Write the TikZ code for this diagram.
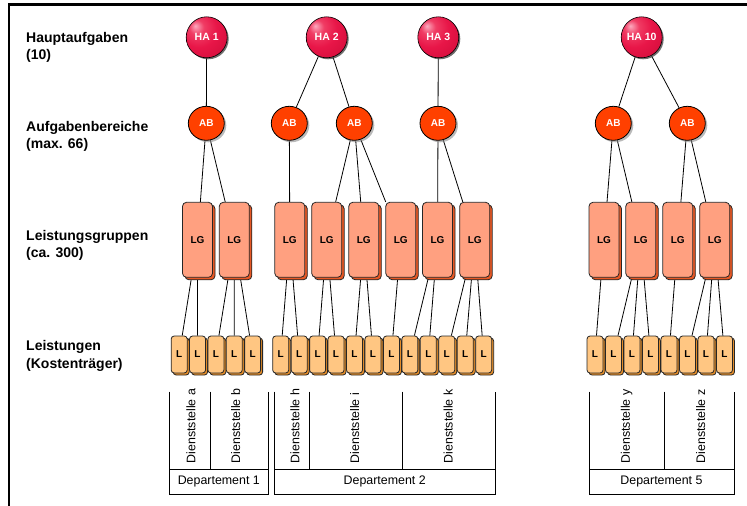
\documentclass[tikz,border=0pt]{standalone}
\usepackage{fontspec}
\setmainfont{Liberation Sans}
\usetikzlibrary{shapes.geometric,shadows,backgrounds}

\definecolor{abfill}{RGB}{255,64,0}
\definecolor{lgfill}{RGB}{255,160,128}
\definecolor{lgback}{RGB}{232,88,36}
\definecolor{lfill}{RGB}{255,198,130}
\definecolor{lback}{RGB}{228,140,40}

% glossy crimson sphere, highlight towards the upper left
\pgfdeclareradialshading{hasphere}{\pgfpoint{-14bp}{14bp}}{%
  color(0bp)=(rgb,255:red,252;green,170;blue,190);
  color(9bp)=(rgb,255:red,240;green,60;blue,100);
  color(22bp)=(rgb,255:red,232;green,22;blue,72);
  color(45bp)=(rgb,255:red,205;green,10;blue,55);
  color(60bp)=(rgb,255:red,150;green,0;blue,35);
  color(72bp)=(rgb,255:red,70;green,0;blue,15)}

\begin{document}
\begin{tikzpicture}[x=1pt,y=-1pt,
  smallbold/.style={font=\fontsize{10}{12}\selectfont\bfseries},
  hanode/.style={circle, minimum size=41pt, inner sep=0pt, shading=hasphere,
    draw=black, line width=0.6pt, text=white,
    font=\fontsize{10.5}{12}\selectfont\bfseries,
    drop shadow={shadow xshift=1.5pt, shadow yshift=-1.5pt, fill=black!70, opacity=0.8}},
  abnode/.style={ellipse, minimum width=36pt, minimum height=34pt, inner sep=0pt,
    fill=abfill, draw=black, line width=0.8pt, text=white, smallbold,
    drop shadow={shadow xshift=2pt, shadow yshift=-2pt, fill=black!45, opacity=0.6}},
  lgnode/.style={rectangle, rounded corners=4pt, minimum width=30pt, minimum height=75pt,
    inner sep=0pt, fill=lgfill, draw=black!85, line width=0.8pt, smallbold,
    general shadow={shadow xshift=2.5pt, shadow yshift=-2.5pt, fill=lgback,
      draw=black!85, line width=0.8pt}},
  lnode/.style={rectangle, rounded corners=3pt, minimum width=16pt, minimum height=37pt,
    inner sep=0pt, fill=lfill, draw=black!85, line width=0.8pt, smallbold,
    general shadow={shadow xshift=2pt, shadow yshift=-2pt, fill=lback,
      draw=black!85, line width=0.8pt}},
  link/.style={draw=black, line width=0.8pt},
  rowlabel/.style={anchor=north west, inner sep=0pt, align=left,
    font=\fontsize{14}{17.5}\selectfont\bfseries},
  tableline/.style={draw=black, line width=0.8pt},
  unitlabel/.style={rotate=90, anchor=west, inner sep=0pt,
    font=\fontsize{12.4}{14}\selectfont},
  deptlabel/.style={inner sep=0pt, font=\fontsize{12.4}{14}\selectfont},
  frameline/.style={draw=black, line width=2.2pt}
]
\useasboundingbox (0,0) rectangle (747,506);

% frame: top rule and left rule
\draw[frameline] (8,4.5) -- (747,4.5);
\draw[frameline] (9,3.4) -- (9,506);

% level labels
\node[rowlabel] (lblha) at (26,32) {Hauptaufgaben\\(10)};
\node[rowlabel] (lblab) at (26,121) {Aufgabenbereiche\\(max. 66)};
\node[rowlabel] (lbllg) at (26,230) {Leistungsgruppen\\(ca. 300)};
\node[rowlabel] (lbll) at (26,340.5) {Leistungen\\(Kostenträger)};

% Hauptaufgaben
\node[hanode] (ha1) at (206.7,37.3) {HA 1};
\node[hanode] (ha2) at (326.7,37.3) {HA 2};
\node[hanode] (ha3) at (438.3,37.3) {HA 3};
\node[hanode] (ha10) at (641.7,37.3) {HA 10};

% Aufgabenbereiche
\node[abnode] (ab1) at (206.3,123.3) {AB};
\node[abnode] (ab2a) at (289.3,123.3) {AB};
\node[abnode] (ab2b) at (354.3,123.3) {AB};
\node[abnode] (ab3) at (438,123.3) {AB};
\node[abnode] (ab10a) at (613.3,123.3) {AB};
\node[abnode] (ab10b) at (687.3,123.3) {AB};

% Leistungsgruppen
\foreach \n/\x in {1/197.5,2/234.3,3/289.8,4/326.7,5/363.8,6/400.8,7/437.5,8/474.7,
                   9/604,10/640.8,11/677.8,12/714.7}
  \node[lgnode] (lg\n) at (\x,239.8) {LG};

% Leistungen
\foreach \k in {0,...,4}
  \pgfmathtruncatemacro{\n}{\k+1}
  \node[lnode] (l\n) at ({179.2+18.35*\k},354.5) {L};
\foreach \k in {0,...,11}
  \pgfmathtruncatemacro{\n}{\k+6}
  \node[lnode] (l\n) at ({280.7+18.45*\k},354.5) {L};
\foreach \k in {0,...,7}
  \pgfmathtruncatemacro{\n}{\k+18}
  \node[lnode] (l\n) at ({595+18.5*\k},354.5) {L};

% connectors
\begin{scope}[on background layer]
  \foreach \a/\b in {ha1/ab1,ha2/ab2a,ha2/ab2b,ha3/ab3,ha10/ab10a,ha10/ab10b,
      ab1/lg1,ab1/lg2,ab2a/lg3,ab2b/lg4,ab2b/lg5,ab2b/lg6,ab3/lg7,ab3/lg8,
      ab10a/lg9,ab10a/lg10,ab10b/lg11,ab10b/lg12,
      lg1/l1,lg1/l2,lg2/l3,lg2/l4,lg2/l5,lg3/l6,lg3/l7,lg4/l8,lg4/l9,
      lg5/l10,lg5/l11,lg6/l12,lg7/l13,lg7/l14,lg8/l15,lg8/l16,lg8/l17,
      lg9/l18,lg10/l19,lg10/l20,lg10/l21,lg11/l22,lg12/l23,lg12/l24,lg12/l25}
    \draw[link] (\a) -- (\b);
\end{scope}

% organisational table
\draw[tableline] (169.3,391.7) -- (169.3,494) -- (268.3,494) -- (268.3,391.7);
\draw[tableline] (169.3,469.5) -- (268.3,469.5);
\draw[tableline] (210,391.7) -- (210,469.5);

\draw[tableline] (274.3,391.7) -- (274.3,494) -- (495,494) -- (495,391.7);
\draw[tableline] (274.3,469.5) -- (495,469.5);
\draw[tableline] (309,391.7) -- (309,469.5);
\draw[tableline] (402.3,391.7) -- (402.3,469.5);

\draw[tableline] (589,391.7) -- (589,494) -- (734,494) -- (734,391.7);
\draw[tableline] (589,469.5) -- (734,469.5);
\draw[tableline] (664.3,391.7) -- (664.3,469.5);

\node[unitlabel] (dsta) at (191,463.5) {Dienststelle a};
\node[unitlabel] (dstb) at (235.7,463.5) {Dienststelle b};
\node[unitlabel] (dsth) at (295,463.5) {Dienststelle h};
\node[unitlabel] (dsti) at (354.7,463.5) {Dienststelle i};
\node[unitlabel] (dstk) at (448.3,463.5) {Dienststelle k};
\node[unitlabel] (dsty) at (626.7,463.5) {Dienststelle y};
\node[unitlabel] (dstz) at (700.7,463.5) {Dienststelle z};

\node[deptlabel] (dep1) at (218.8,481.8) {Departement 1};
\node[deptlabel] (dep2) at (384.7,481.8) {Departement 2};
\node[deptlabel] (dep5) at (661.5,481.8) {Departement 5};
\end{tikzpicture}
\end{document}
